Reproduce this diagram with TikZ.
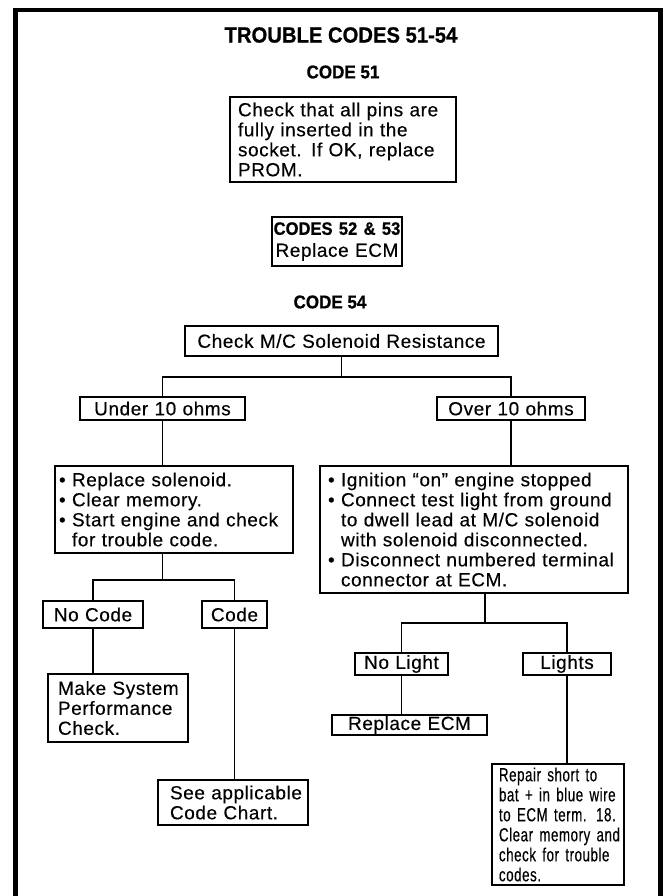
\documentclass[tikz,border=0pt]{standalone}
\usepackage{fontspec}
\newfontfamily\bodyfont[LetterSpace=3, FakeBold=0.3]{Liberation Sans}
\newfontfamily\narrowfont[LetterSpace=3, FakeBold=0.3, FakeStretch=0.70]{Liberation Sans}
\newfontfamily\headfont[FakeBold=0.8, FakeStretch=0.92]{Liberation Sans Bold}
\newcommand\bodysize{\fontsize{19}{20}\selectfont}
\newcommand\bulletline[1]{\mbox{\makebox[13pt][l]{\textbullet}#1}}
\newcommand\contline[1]{\mbox{\hspace*{13pt}#1}}
\newcommand\plainline[1]{\mbox{#1}}

\begin{document}
\begin{tikzpicture}[x=1pt, y=-1pt,
  box/.style={draw, rectangle, line width=1.2pt, inner ysep=0pt,
              font=\bodyfont\bodysize},
  conn/.style={line width=1.2pt},
  heading/.style={font=\headfont\fontsize{#1}{#1}\selectfont, inner sep=0pt}]
\useasboundingbox (0,0) rectangle (665,896);
\clip (0,0) rectangle (665,896);

% outer frame, open past the lower edge
\draw[line width=4.5pt, line join=miter] (15.5,905) -- (15.5,10) -- (660.5,10) -- (660.5,905);

% headings
\node[heading=22] (title) at (341,35) {TROUBLE CODES 51-54};
\node[heading=18.5] (c51) at (343,72) {CODE 51};
\node[heading=18.5] (c54) at (330,302) {CODE 54};

% code 51
\node[box, minimum width=226pt, minimum height=85pt, text width=210pt, inner xsep=8pt, align=left]
  (b51) at (343,139.5)
  {\plainline{Check that all pins are}\\\plainline{fully inserted in the}\\
   \plainline{socket. If OK, replace}\\\plainline{PROM.}};

% codes 52 and 53
\node[box, minimum width=130pt, minimum height=49pt, text width=128pt, inner xsep=1pt, align=center]
  (b5253) at (337,241.5)
  {\mbox{\headfont\fontsize{18}{18}\selectfont CODES 52 \& 53}\\[2pt]\mbox{Replace ECM}};

% code 54 tree
\node[box, minimum width=313pt, minimum height=30pt, text width=305pt, inner xsep=4pt, align=center]
  (check) at (341.5,341) {Check M/C Solenoid Resistance};

\node[box, minimum width=165pt, minimum height=23pt, text width=157pt, inner xsep=4pt, align=center]
  (under) at (162.5,408.5) {Under 10 ohms};
\node[box, minimum width=148pt, minimum height=23pt, text width=140pt, inner xsep=4pt, align=center]
  (over) at (511,408.5) {Over 10 ohms};

\node[box, minimum width=238pt, minimum height=87pt, text width=230pt, inner xsep=4pt, align=left]
  (lsol) at (174,509.5)
  {\bulletline{Replace solenoid.}\\\bulletline{Clear memory.}\\
   \bulletline{Start engine and check}\\\contline{for trouble code.}};

\node[box, minimum width=308pt, minimum height=127pt, text width=292pt, inner xsep=8pt, align=left]
  (rsol) at (474,529.5)
  {\bulletline{Ignition “on” engine stopped}\\\bulletline{Connect test light from ground}\\
   \contline{to dwell lead at M/C solenoid}\\\contline{with solenoid disconnected.}\\
   \bulletline{Disconnect numbered terminal}\\\contline{connector at ECM.}};

\node[box, minimum width=100pt, minimum height=27pt, text width=92pt, inner xsep=4pt, align=center]
  (nocode) at (93,614.5) {No Code};
\node[box, minimum width=65pt, minimum height=27pt, text width=57pt, inner xsep=4pt, align=center]
  (code) at (234.5,614.5) {Code};

\node[box, minimum width=140pt, minimum height=68pt, text width=120pt, inner xsep=10pt, align=left]
  (make) at (118,708)
  {\plainline{Make System}\\\plainline{Performance}\\\plainline{Check.}};
\node[box, minimum width=150pt, minimum height=45pt, text width=126pt, inner xsep=12pt, align=left]
  (see) at (233,802.5)
  {\plainline{See applicable}\\\plainline{Code Chart.}};

\node[box, minimum width=93pt, minimum height=22pt, text width=85pt, inner xsep=4pt, align=center]
  (nolight) at (401.5,664) {No Light};
\node[box, minimum width=88pt, minimum height=22pt, text width=80pt, inner xsep=4pt, align=center]
  (lights) at (567,664) {Lights};

\node[box, minimum width=155pt, minimum height=20pt, text width=147pt, inner xsep=4pt, align=center]
  (recm) at (409.5,725) {Replace ECM};
\node[box, font=\narrowfont\bodysize, minimum width=132pt, minimum height=121pt, text width=118pt,
      inner xsep=7pt, align=left]
  (repair) at (558,824.5)
  {\plainline{Repair short to}\\\plainline{bat + in blue wire}\\\plainline{to ECM term. 18.}\\
   \plainline{Clear memory and}\\\plainline{check for trouble}\\\plainline{codes.}};

% connectors
\coordinate (split1) at (check.south |- 0,377);
\coordinate (split2) at (under.south |- 0,580);
\coordinate (split3) at (485,623);

\draw[conn] (check.south) -- (split1);
\draw[conn] (under.north) |- (split1) -| (over.north);
\draw[conn] (under.south) -- (under.south |- lsol.north);
\draw[conn] (over.south) -- (over.south |- rsol.north);

\draw[conn] (lsol.south -| split2) -- (split2);
\draw[conn] (nocode.north) |- (split2) -| (code.north);
\draw[conn] (nocode.south) -- (nocode.south |- make.north);
\draw[conn] (code.south) -- (code.south |- see.north);

\draw[conn] (rsol.south -| split3) -- (split3);
\draw[conn] (nolight.north) |- (split3) -| (lights.north);
\draw[conn] (nolight.south) -- (nolight.south |- recm.north);
\draw[conn] (lights.south) -- (lights.south |- repair.north);
\end{tikzpicture}
\end{document}
